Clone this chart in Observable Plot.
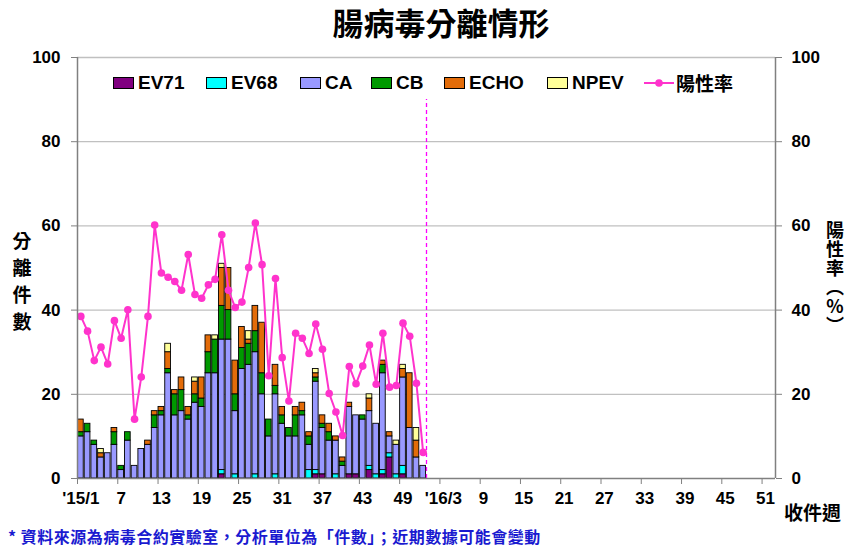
<!DOCTYPE html>
<html><head><meta charset="utf-8">
<script src="https://cdn.jsdelivr.net/npm/d3@7"></script>
<script src="https://cdn.jsdelivr.net/npm/@observablehq/plot@0.6"></script>
<style>
body{margin:0;background:#fff;}
#wrap{position:relative;width:845px;height:548px;overflow:hidden;font-family:Arial,"Liberation Sans",sans-serif;}
.abs{position:absolute;white-space:nowrap;}
.cjk{font-family:"Noto Sans CJK TC","Noto Sans CJK SC",sans-serif;font-weight:700;}
#title{left:0;width:882px;top:1px;text-align:center;font-size:31px;line-height:42px;color:#000;}
.vlab{text-align:center;font-size:19px;line-height:27px;color:#000;}
.leg-sw{position:absolute;width:21px;height:12px;border:1px solid #000;box-sizing:border-box;}
.leg-tx{position:absolute;font-size:19px;font-weight:bold;line-height:20px;color:#000;}
#foot{left:8px;top:526px;font-size:16px;line-height:20px;color:#1a1ad0;letter-spacing:0.5px;}
#xlab{left:784px;top:499px;font-size:19px;line-height:26px;color:#000;}
#rlab{left:825px;top:221px;width:20px;font-size:18px;line-height:20px;color:#000;writing-mode:vertical-rl;text-orientation:upright;letter-spacing:1px;}
</style></head>
<body>
<div id="wrap"></div>
<script>
// ---- data (2015 weeks 1..52; 2016 weeks have no data yet) ----
const types = ["EV71","EV68","CA","CB","ECHO","NPEV"];
const colors = ["#800080","#00ffff","#9999ff","#009900","#e36c09","#ffff99"];
const ev71 = [0,0,0,0,0,0,0,0,0,0,0,0,0,0,0,0,0,0,0,0,0,1,0,0,0,0,0,0,0,0,0,0,0,0,0,1,1,0,0,0,1,1,0,2,0,1,5,0,1,0,0,0];
const ev68 = [0,0,0,0,0,0,0,0,0,0,0,0,0,0,0,0,0,0,0,0,0,1,0,1,0,0,1,0,0,1,0,0,0,0,2,1,0,0,1,0,0,0,0,1,1,1,1,1,2,0,0,0];
const ca   = [10,11,8,5,6,8,2,9,3,7,8,12,15,25,15,16,14,18,17,25,25,31,33,15,26,27,29,20,10,19,13,10,10,15,6,21,11,9,8,3,16,14,14,13,12,23,4,7,21,12,5,3];
const cb   = [1,2,1,0,0,3,1,2,0,0,0,3,1,1,5,5,1,2,2,5,8,8,7,4,5,5,5,5,4,2,2,2,5,1,2,1,1,2,0,1,0,0,1,0,0,2,0,0,0,0,0,0];
const echo = [3,0,0,1,0,1,0,0,0,0,1,1,1,4,1,3,2,3,5,4,0,9,10,8,5,1,6,12,0,5,2,0,2,2,1,1,2,2,1,1,1,0,0,3,0,1,1,0,2,13,4,0];
const npev = [0,0,0,1,0,0,0,0,0,0,0,0,0,2,0,0,0,1,0,0,1,1,0,0,0,2,0,0,0,0,0,0,0,0,0,1,0,0,0,0,0,0,0,1,0,0,0,1,1,0,3,0];
const rate = [38.5,35.0,28.0,31.2,27.2,37.5,33.3,40.1,14.1,24.1,38.5,60.2,48.8,47.8,46.8,44.7,53.2,43.7,42.8,46.0,47.3,57.9,44.7,40.6,41.9,50.1,60.7,50.8,24.4,47.5,28.7,18.4,34.5,33.3,29.7,36.7,30.7,20.2,15.8,10.2,26.6,22.5,26.7,31.7,22.4,34.5,21.7,22.1,36.9,33.8,22.6,6.2];
const totalWeeks = 104;               // 2015: 52 weeks, 2016: 52 weeks
const xTickLabels = ["'15/1","7","13","19","25","31","37","43","49","'16/3","9","15","21","27","33","39","45","51"];
const yTicks = [0,20,40,60,80,100];
const boundaryWeek = 52.5;            // dashed line: end of reported data
const dashTop = 90;

// ---- build tables ----
const series = [ev71, ev68, ca, cb, echo, npev];
const bars = [];
ca.forEach((_, i) => types.forEach((t, j) => {
  const v = series[j][i];
  if (v > 0) bars.push({week: i + 1, type: t, value: v});
}));
const rates = rate.map((r, i) => ({week: i + 1, rate: r}));
const labelWeeks = xTickLabels.map((_, i) => 1 + 6 * i);
const labelMap = new Map(labelWeeks.map((w, i) => [w, xTickLabels[i]]));
const tickBounds = labelWeeks.map(w => w - 0.5);

const chart = Plot.plot({
  width: 845, height: 548,
  marginLeft: 77, marginRight: 70, marginTop: 57, marginBottom: 70,
  x: {domain: [0.5, totalWeeks + 0.5]},
  y: {domain: [0, 100]},
  color: {domain: types, range: colors},
  style: {background: "white", fontFamily: "Arial, 'Liberation Sans', sans-serif", overflow: "visible"},
  marks: [
    Plot.ruleY(yTicks.slice(1), {stroke: "#c0c0c0", strokeWidth: 1.3}),
    Plot.rectY(bars, Plot.stackY({
      x1: d => d.week - 0.5, x2: d => d.week + 0.5, y: "value", fill: "type",
      stroke: "black", strokeWidth: 0.9, insetLeft: 0.5, insetRight: 0.5
    })),
    Plot.ruleX([boundaryWeek], {y1: 0, y2: dashTop, stroke: "#ff00ff", strokeWidth: 1.3, strokeDasharray: "4 3"}),
    Plot.line(rates, {x: "week", y: "rate", stroke: "#ff33cc", strokeWidth: 2}),
    Plot.dot(rates, {x: "week", y: "rate", r: 3.8, fill: "#ff33cc", stroke: "none"}),
    Plot.ruleX([0.5, totalWeeks + 0.5], {stroke: "#808080", strokeWidth: 1.5}),
    Plot.ruleY([0], {stroke: "#808080", strokeWidth: 1.5}),
    Plot.axisY(yTicks, {anchor: "left", tickSize: 6, tickPadding: 11, label: null, fontSize: 17, fontWeight: "bold", stroke: "#808080", fill: "black"}),
    Plot.axisY(yTicks, {anchor: "right", tickSize: 6, tickPadding: 10, label: null, fontSize: 17, fontWeight: "bold", stroke: "#808080", fill: "black"}),
    Plot.axisX(tickBounds, {tickSize: 6, tickFormat: () => "", label: null, stroke: "#808080"}),
    Plot.axisX(labelWeeks, {tickSize: 0, tickPadding: 13, tickFormat: d => labelMap.get(d), label: null, fontSize: 17, fontWeight: "bold", fill: "black"})
  ]
});

const wrap = document.getElementById("wrap");
wrap.appendChild(chart);

function addDiv(cls, id, html, style) {
  const d = document.createElement("div");
  d.className = cls; if (id) d.id = id; d.innerHTML = html;
  if (style) Object.assign(d.style, style);
  wrap.appendChild(d); return d;
}
addDiv("abs cjk", "title", "腸病毒分離情形");
addDiv("abs cjk vlab", null, "分<br>離<br>件<br>數", {left: "10px", top: "226px", width: "24px"});
addDiv("abs cjk", "rlab", "陽性率（%）");
addDiv("abs cjk", "xlab", "收件週");
addDiv("abs cjk", "foot", "* 資料來源為病毒合約實驗室，分析單位為「件數」；近期數據可能會變動");

// legend
const legendItems = [
  {name: "EV71", sw: 113, tx: 138}, {name: "EV68", sw: 206, tx: 231},
  {name: "CA", sw: 300, tx: 325}, {name: "CB", sw: 371, tx: 396},
  {name: "ECHO", sw: 444, tx: 469}, {name: "NPEV", sw: 547, tx: 572}
];
legendItems.forEach((it) => {
  addDiv("leg-sw", null, "", {left: it.sw + "px", top: "77px", background: colors[types.indexOf(it.name)]});
  addDiv("leg-tx", null, it.name, {left: it.tx + "px", top: "73px"});
});
// line legend
const ls = document.createElementNS("http://www.w3.org/2000/svg", "svg");
ls.setAttribute("width", "30"); ls.setAttribute("height", "12");
ls.style.position = "absolute"; ls.style.left = "644px"; ls.style.top = "77px";
ls.innerHTML = '<line x1="0" y1="6" x2="30" y2="6" stroke="#ff33cc" stroke-width="2"/><circle cx="15" cy="6" r="3.8" fill="#ff33cc"/>';
wrap.appendChild(ls);
addDiv("abs cjk", null, "陽性率", {left: "676px", top: "70px", fontSize: "19px", lineHeight: "26px"});
</script>
</body></html>
